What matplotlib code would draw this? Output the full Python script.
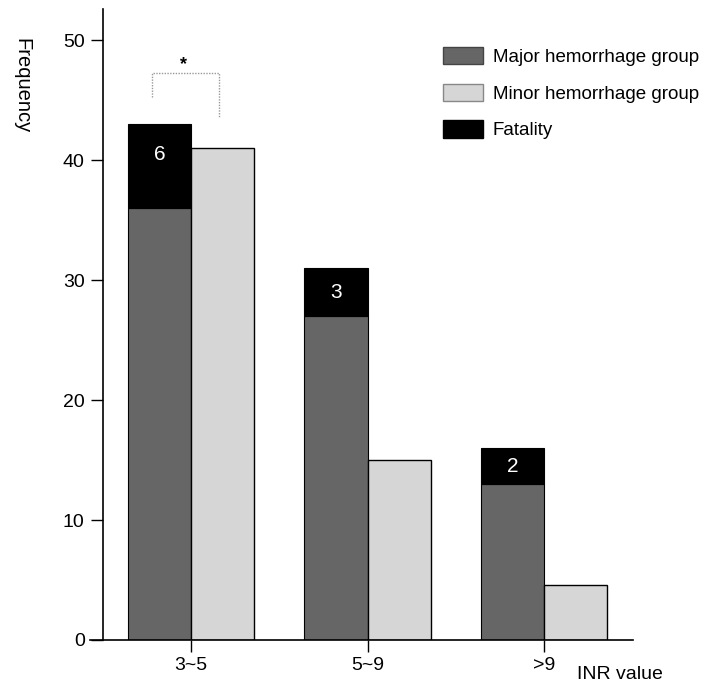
import matplotlib
matplotlib.use("Agg")
import matplotlib.pyplot as plt
from matplotlib.patches import Patch
import numpy as np

plt.rcParams['font.family'] = ['Liberation Sans', 'DejaVu Sans']

# data
categories = ["3~5", "5~9", ">9"]
major_base = [36, 27, 13]      # hatched part of the major bar
major_total = [43, 31, 16]     # top of the black (fatality) part
fatality_labels = ["6", "3", "2"]
minor_vals = [41, 15, 4.6]

MAJOR_COLOR = '#666666'
MINOR_COLOR = '#d6d6d6'
width = 0.357

fig = plt.figure(figsize=(7.09, 6.84), dpi=100)
ax = fig.add_axes([90/709, 44/684, 543/709, 631/684])

x = np.arange(len(categories))
fat_h = [t - b for t, b in zip(major_total, major_base)]

ax.bar(x - width/2, major_base, width, color=MAJOR_COLOR, edgecolor='black', linewidth=0.8)
ax.bar(x - width/2, fat_h, width, bottom=major_base, color='black', edgecolor='black', linewidth=0.8)
ax.bar(x + width/2, minor_vals, width, color=MINOR_COLOR, edgecolor='black', linewidth=1.0)

for i in range(len(categories)):
    mid = major_base[i] + fat_h[i] / 2
    ypos = max(mid, major_total[i] - 2.5)
    ax.text(x[i] - width/2, ypos, fatality_labels[i], color='white', fontsize=15,
            ha='center', va='center')

# significance bracket
bx0, bx1 = x[0] - 0.22, x[0] + 0.16
ax.plot([bx0, bx0, bx1, bx1], [45.3, 47.3, 47.3, 43.5], color='#999999',
        linewidth=1.0, linestyle=(0, (1, 1)))
ax.text(x[0] - 0.04, 48.0, '*', fontsize=13, fontweight='bold', ha='center', va='center')

ax.set_xlim(-0.572, 2.504)
ax.set_ylim(0, 52.6)
ax.spines['left'].set_position(('data', -0.5))
ax.spines['top'].set_visible(False)
ax.spines['right'].set_visible(False)
ax.spines['left'].set_linewidth(1.2)
ax.spines['bottom'].set_linewidth(1.2)

ax.set_yticks([0, 10, 20, 30, 40, 50])
ax.set_xticks(x)
ax.set_xticklabels(categories)
ax.tick_params(axis='y', length=9, width=1, pad=4, labelsize=14)
ax.tick_params(axis='x', length=8.5, width=1, pad=4, labelsize=14)

fig.text(22/709, 1 - 86/684, 'Frequency', rotation=270, fontsize=14.5,
         ha='center', va='center')
ax.text(2.187, -2.9, 'INR value', fontsize=14, ha='left', va='center', clip_on=False)

handles = [Patch(facecolor=MAJOR_COLOR, edgecolor='#444444'),
           Patch(facecolor=MINOR_COLOR, edgecolor='#888888'),
           Patch(facecolor='black', edgecolor='black')]
labels = ['Major hemorrhage group', 'Minor hemorrhage group', 'Fatality']
ax.legend(handles, labels, loc='upper left', bbox_to_anchor=(0.65, 0.94),
          frameon=False, fontsize=13.5, handlelength=2.13, handleheight=1.07,
          handletextpad=0.53, labelspacing=0.93, borderpad=0, borderaxespad=0)

fig.savefig('out.png', dpi=100)
